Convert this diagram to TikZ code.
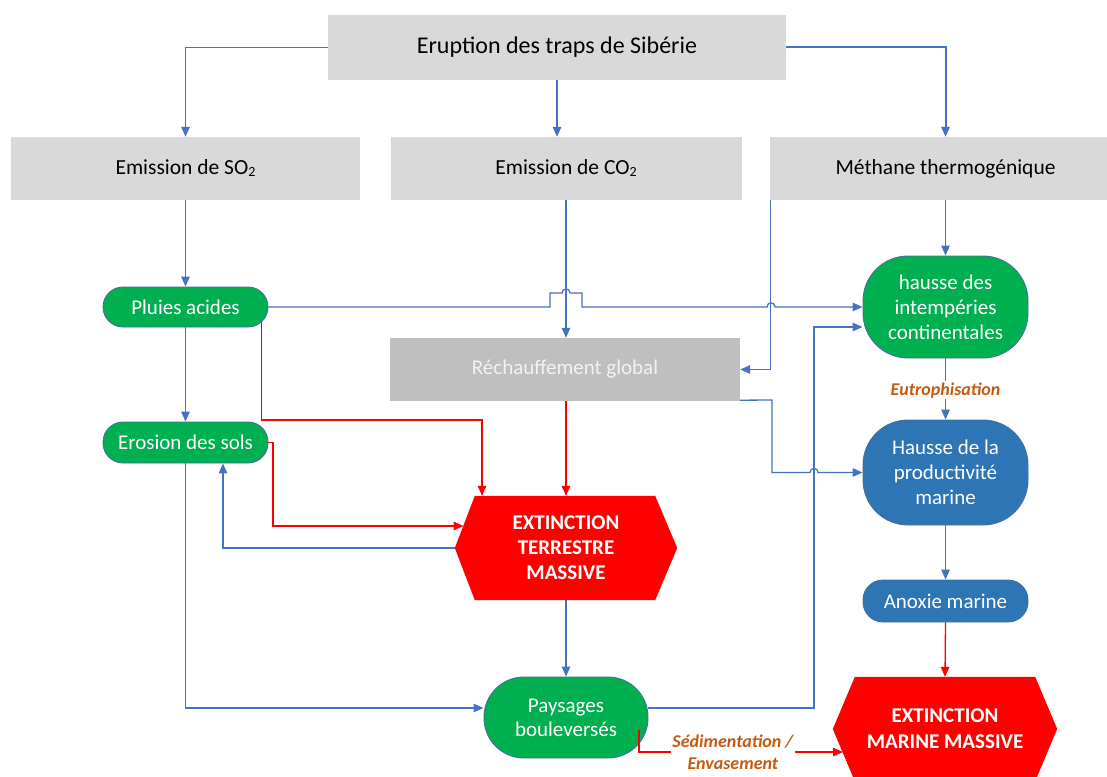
\documentclass[tikz,border=0pt]{standalone}
\usepackage{fontspec}
\setmainfont{Carlito}
\usetikzlibrary{arrows.meta,backgrounds}
\definecolor{gbox}{HTML}{D9D9D9}
\definecolor{rbox}{HTML}{BFBFBF}
\definecolor{vert}{HTML}{00B050}
\definecolor{bleu}{HTML}{2E75B6}
\definecolor{outl}{HTML}{41719C}
\definecolor{lien}{HTML}{4472C4}
\definecolor{rouge}{HTML}{FF0000}
\definecolor{brun}{HTML}{C55A11}
\tikzset{
  graybox/.style={rectangle, fill=gbox, inner sep=0pt, text=black, font=\fontsize{21.5}{26}\selectfont},
  greennode/.style={rectangle, draw=outl, line width=0.9pt, fill=vert, text=white, align=center, inner sep=0pt, minimum width=165pt, font=\fontsize{21}{25}\selectfont},
  bluenode/.style={greennode, fill=bleu},
  hexnode/.style={rectangle, inner sep=0pt, text=white, align=center, font=\bfseries\fontsize{21}{25}\selectfont},
  barrow/.style={draw=lien, line width=1.3pt, -{Triangle[length=10pt,width=8.5pt]}},
  rarrow/.style={draw=rouge, line width=1.3pt, -{Triangle[length=10pt,width=8.5pt]}},
  lab/.style={fill=white, text=brun, align=center, inner sep=1.5pt, font=\bfseries\itshape\fontsize{18}{22}\selectfont},
}
\newcommand{\subtwo}{{\fontsize{14}{14}\selectfont\raisebox{-2pt}{2}}}
\begin{document}
\begin{tikzpicture}[x=1pt,y=-1pt]
\useasboundingbox (0,0) rectangle (1107,776);
% nodes
\node[graybox, minimum width=458pt, minimum height=65pt, font=\fontsize{24}{28}\selectfont] (erupt) at (557,47.5) {Eruption des traps de Sibérie};
\node[graybox, minimum width=349pt, minimum height=63pt] (so2) at (185.5,168.5) {Emission de SO\subtwo};
\node[graybox, minimum width=351pt, minimum height=63pt] (co2) at (566,168.5) {Emission de CO\subtwo};
\node[graybox, minimum width=351pt, minimum height=63pt] (meth) at (945.5,168.5) {Méthane thermogénique};
\node[greennode, minimum height=40pt, rounded corners=20pt] (pluies) at (185.5,307) {Pluies acides};
\node[greennode, minimum height=41pt, rounded corners=20pt] (erosion) at (185.5,442.5) {Erosion des sols};
\node[graybox, fill=rbox, text=white!95!black, minimum width=350pt, minimum height=63pt, font=\fontsize{21}{25}\selectfont] (rech) at (565,369.5) {Réchauffement global};
\node[greennode, minimum height=102pt, rounded corners=45pt] (hausse) at (945.5,307) {hausse des\\intempéries\\continentales};
\node[bluenode, minimum height=105pt, rounded corners=45pt] (prod) at (945.5,472.5) {Hausse de la\\productivité\\marine};
\node[bluenode, minimum height=42pt, rounded corners=20pt] (anox) at (945.5,601) {Anoxie marine};
\node[greennode, minimum width=164pt, minimum height=81pt, rounded corners=40pt, font=\fontsize{21}{24}\selectfont] (pays) at (566,717.5) {Paysages\\bouleversés};
\node[hexnode, minimum width=222pt, minimum height=104pt] (extT) at (566,548) {EXTINCTION\\TERRESTRE\\MASSIVE};
\node[hexnode, minimum width=224pt, minimum height=104pt, font=\bfseries\fontsize{21}{26}\selectfont] (extM) at (945,729) {EXTINCTION\\MARINE MASSIVE};
\begin{scope}[on background layer]
\fill[rouge] (extT.west) -- ([xshift=20pt]extT.north west) -- ([xshift=-22pt]extT.north east) -- (extT.east) -- ([xshift=-22pt]extT.south east) -- ([xshift=20pt]extT.south west) -- cycle;
\fill[rouge] (extM.west) -- ([xshift=22pt]extM.north west) -- ([xshift=-22pt]extM.north east) -- (extM.east) -- ([xshift=-22pt]extM.south east) -- ([xshift=22pt]extM.south west) -- cycle;
\end{scope}
% connectors
\draw[barrow] (erupt.west) -| (so2.north);
\draw[barrow] (erupt.south) -- (erupt.south |- co2.north);
\draw[barrow, line width=2pt] (erupt.east) -| (meth.north);
\draw[barrow] (so2.south) -- (pluies.north);
\draw[barrow] (pluies.south) -- (erosion.north);
\draw[barrow] (erosion.south) |- ([yshift=9.5pt]pays.west);
\draw[barrow] (co2.south) -- (co2.south |- rech.north);
\draw[barrow] (pluies.east) -- (550,307) -- (550,293) -- (562,293) .. controls (562,287.5) and (570,287.5) .. (570,293) -- (582,293) -- (582,307) -- (767,307) .. controls (767,301.5) and (775,301.5) .. (775,307) -- (hausse.west);
\draw[barrow] ([xshift=1pt]meth.south west) |- (rech.east);
\draw[barrow] (meth.south) -- (hausse.north);
\draw[barrow] ([yshift=9.5pt]pays.east) -- (814,708) -- (814,327) -- ([yshift=-20pt]hausse.west);
\draw[barrow] ([yshift=1pt]rech.south east) -- (772,400) -- (772,472.5) -- (810,472.5) .. controls (810,467) and (818,467) .. (818,472.5) -- (prod.west);
\draw[barrow] (hausse.south) -- (prod.north) node[lab, pos=0.52] {Eutrophisation};
\draw[barrow] (prod.south) -- (anox.north);
\draw[rarrow] (anox.south) -- (extM.north);
\draw[rarrow] ([xshift=-7pt,yshift=5pt]pluies.south east) |- (482,420) -- (482,420 |- extT.north);
\draw[rarrow] (erosion.east) -- (273,442.5) -- (273,526) -- (463.5,526);
\draw[barrow] (extT.west) -| ([xshift=37.5pt]erosion.south);
\draw[rarrow] (rech.south -| extT.north) -- (extT.north);
\draw[barrow] (extT.south) -- (pays.north);
\draw[rarrow] (639,730) |- (843,752) node[lab, pos=0.73] {Sédimentation /\\Envasement};
\end{tikzpicture}
\end{document}
